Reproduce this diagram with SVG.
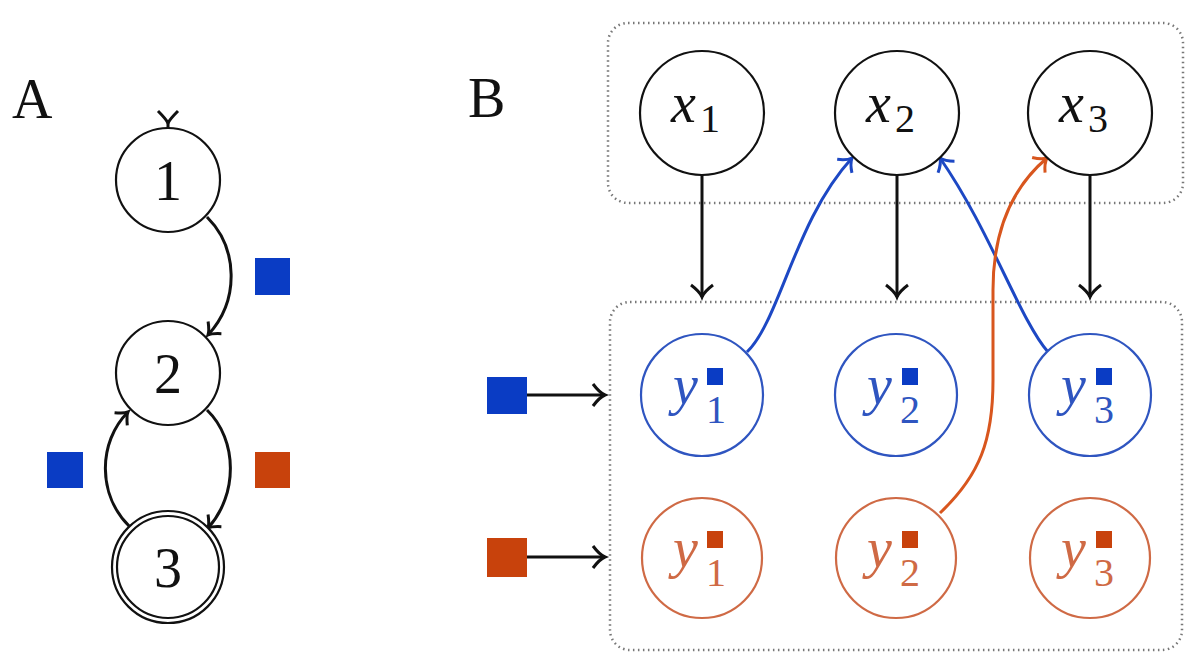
<svg xmlns="http://www.w3.org/2000/svg" width="1200" height="668" viewBox="0 0 1200 668">
<style>
.bg{fill:#ffffff}
.node{fill:#ffffff;stroke:#111;stroke-width:2.2}
.nb{fill:#ffffff;stroke:#2f55c0;stroke-width:2.2}
.no{fill:#ffffff;stroke:#cf6a45;stroke-width:2.2}
.lbl{font-family:'Liberation Serif','Times New Roman','DejaVu Serif',serif;font-size:56px;fill:#111}
.mi{font-family:'Liberation Serif','Times New Roman','DejaVu Serif',serif;font-style:italic;font-size:56px}
.sub{font-family:'Liberation Serif','Times New Roman','DejaVu Serif',serif;font-size:40px}
.edge{fill:none;stroke:#111;stroke-width:3}
.eb{fill:none;stroke:#1d48c4;stroke-width:3}
.eo{fill:none;stroke:#d8561e;stroke-width:3}
.box{fill:none;stroke:#777;stroke-width:2.5;stroke-dasharray:1.5 3.5}
.sqb{fill:#0a3cc4}
.sqo{fill:#c8420c}
</style>
<defs>
<marker id="ak" markerUnits="userSpaceOnUse" viewBox="-20 -20 40 40" markerWidth="40" markerHeight="40" refX="0" refY="0" orient="auto">
<path d="M -12,-11 C -6,-3 -2,-0.8 0,0 C -2,0.8 -6,3 -12,11" fill="none" stroke="#111" stroke-width="3"/>
</marker>
<marker id="aks" markerUnits="userSpaceOnUse" viewBox="-20 -20 40 40" markerWidth="40" markerHeight="40" refX="0" refY="0" orient="auto">
<path d="M -10,-9 C -5,-3 -2,-0.8 0,0 C -2,0.8 -5,3 -10,9" fill="none" stroke="#111" stroke-width="3"/>
</marker>
<marker id="ab" markerUnits="userSpaceOnUse" viewBox="-20 -20 40 40" markerWidth="40" markerHeight="40" refX="0" refY="0" orient="auto">
<path d="M -11,-10 C -6,-3 -2,-0.8 0,0 C -2,0.8 -6,3 -11,10" fill="none" stroke="#1d48c4" stroke-width="3"/>
</marker>
<marker id="ao" markerUnits="userSpaceOnUse" viewBox="-20 -20 40 40" markerWidth="40" markerHeight="40" refX="0" refY="0" orient="auto">
<path d="M -11,-10 C -6,-3 -2,-0.8 0,0 C -2,0.8 -6,3 -11,10" fill="none" stroke="#d8561e" stroke-width="3"/>
</marker>
</defs>
<rect class="bg" x="0" y="0" width="1200" height="668"/>

<text class="lbl" x="12" y="118">A</text>
<text class="lbl" x="468" y="117">B</text>

<g id="boxes">
<rect class="box" x="608" y="23" width="575" height="180" rx="20"/>
<rect class="box" x="610" y="302" width="572" height="348" rx="20"/>
</g>

<g id="connectors">
<path class="edge" d="M 168,128 L 168,122"/>
<path d="M 158,111 C 163,116 166,119 168,123 C 170,119 173,116 178,111" fill="none" stroke="#111" stroke-width="3"/>
<path class="edge" d="M 207,217 C 238,248 240,300 208,335" marker-end="url(#aks)"/>
<path class="edge" d="M 207,410 C 238,440 238,495 208,528" marker-end="url(#aks)"/>
<path class="edge" d="M 130,527 C 97,495 98,442 128,412" marker-end="url(#aks)"/>
<line class="edge" x1="702" y1="175" x2="702" y2="297" marker-end="url(#ak)"/>
<line class="edge" x1="897" y1="175" x2="897" y2="297" marker-end="url(#ak)"/>
<line class="edge" x1="1090" y1="175" x2="1090" y2="297" marker-end="url(#ak)"/>
<line class="edge" x1="527" y1="395" x2="605" y2="395" marker-end="url(#ak)"/>
<line class="edge" x1="527" y1="557" x2="605" y2="557" marker-end="url(#ak)"/>
<path class="eb" d="M 747,352 C 780,320 795,220 852,158" marker-end="url(#ab)"/>
<path class="eb" d="M 1048,352 C 1020,320 990,230 940,158" marker-end="url(#ab)"/>
<path class="eo" d="M 940,513 C 980,475 993,440 993,380 L 993,290 C 993,225 1015,185 1047,158" marker-end="url(#ao)"/>
</g>

<g id="legend">
<rect class="sqb" x="255" y="258" width="35" height="37"/>
<rect class="sqb" x="47" y="452" width="36" height="36"/>
<rect class="sqo" x="255" y="452" width="35" height="36"/>
<rect class="sqb" x="487" y="377" width="40" height="37"/>
<rect class="sqo" x="487" y="538" width="40" height="39"/>
</g>

<g id="n1"><circle class="node" cx="168" cy="180" r="52"/><text class="lbl" x="168" y="200" text-anchor="middle">1</text></g>
<g id="n2"><circle class="node" cx="168" cy="373" r="52"/><text class="lbl" x="168" y="393" text-anchor="middle">2</text></g>
<g id="n3"><circle class="node" cx="168" cy="567" r="56"/><circle class="node" cx="168" cy="567" r="51"/><text class="lbl" x="168" y="587" text-anchor="middle">3</text></g>

<g id="x1"><circle class="node" cx="702" cy="113" r="62"/><text class="mi" x="671" y="122" fill="#111">x</text><text class="sub" x="700" y="132" fill="#111">1</text></g>
<g id="x2"><circle class="node" cx="897" cy="113" r="62"/><text class="mi" x="866" y="122" fill="#111">x</text><text class="sub" x="895" y="132" fill="#111">2</text></g>
<g id="x3"><circle class="node" cx="1090" cy="113" r="62"/><text class="mi" x="1059" y="122" fill="#111">x</text><text class="sub" x="1088" y="132" fill="#111">3</text></g>

<g id="yb1"><circle class="nb" cx="702" cy="395" r="61"/><text class="mi" x="673" y="404" fill="#2f55c0">y</text><text class="sub" x="706" y="423" fill="#2f55c0">1</text><rect class="sqb" x="707" y="368" width="16" height="17"/></g>
<g id="yb2"><circle class="nb" cx="896" cy="395" r="61"/><text class="mi" x="867" y="404" fill="#2f55c0">y</text><text class="sub" x="900" y="423" fill="#2f55c0">2</text><rect class="sqb" x="902" y="368" width="16" height="17"/></g>
<g id="yb3"><circle class="nb" cx="1090" cy="395" r="61"/><text class="mi" x="1061" y="404" fill="#2f55c0">y</text><text class="sub" x="1094" y="423" fill="#2f55c0">3</text><rect class="sqb" x="1096" y="368" width="16" height="17"/></g>

<g id="yo1"><circle class="no" cx="702" cy="558" r="60"/><text class="mi" x="673" y="567" fill="#cf6a45">y</text><text class="sub" x="706" y="586" fill="#cf6a45">1</text><rect class="sqo" x="707" y="531" width="16" height="17"/></g>
<g id="yo2"><circle class="no" cx="896" cy="558" r="60"/><text class="mi" x="867" y="567" fill="#cf6a45">y</text><text class="sub" x="900" y="586" fill="#cf6a45">2</text><rect class="sqo" x="902" y="531" width="16" height="17"/></g>
<g id="yo3"><circle class="no" cx="1090" cy="558" r="60"/><text class="mi" x="1061" y="567" fill="#cf6a45">y</text><text class="sub" x="1094" y="586" fill="#cf6a45">3</text><rect class="sqo" x="1096" y="531" width="16" height="17"/></g>
</svg>
